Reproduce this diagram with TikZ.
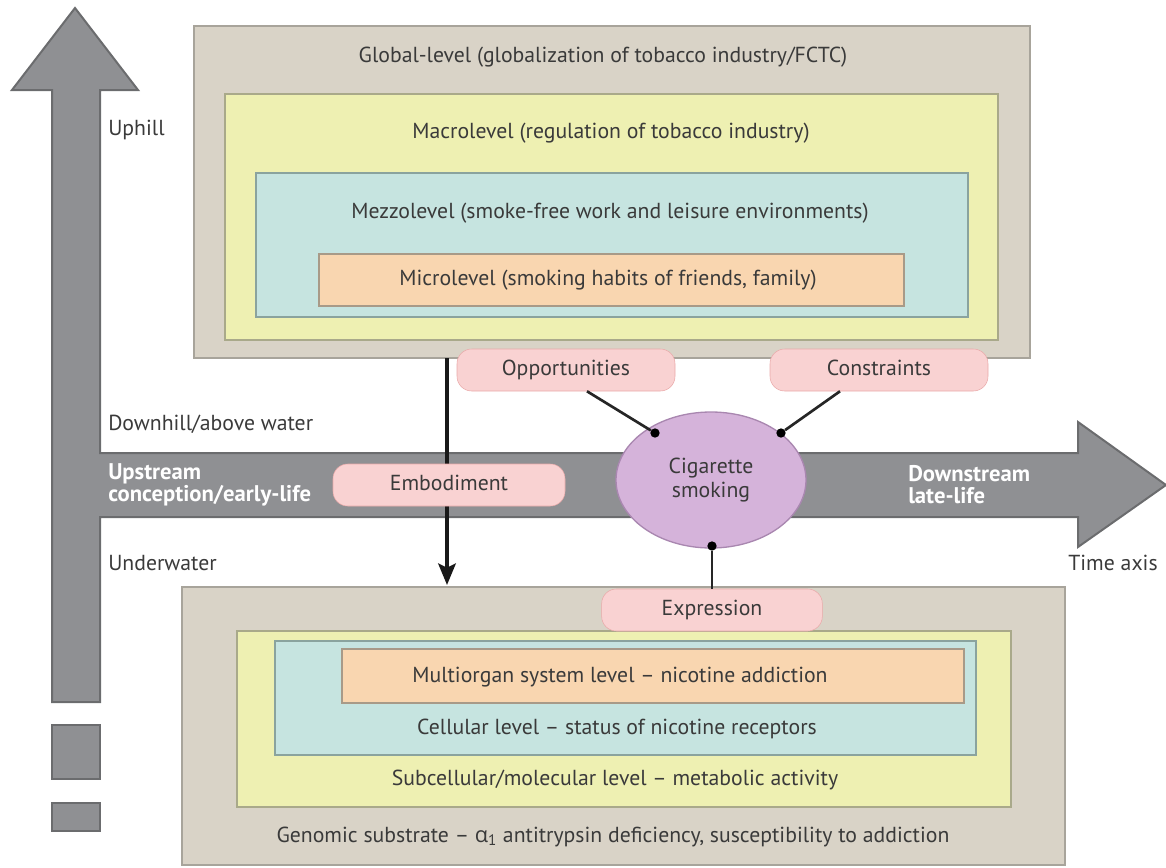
\documentclass[tikz,border=0pt]{standalone}
\usepackage{fontspec}
\setmainfont{PT Sans}
\newfontfamily\greekfont{Open Sans}
\usetikzlibrary{arrows.meta, positioning, calc, shapes.geometric}
\definecolor{cgray}{HTML}{8F9093}
\definecolor{cgrayline}{HTML}{6B6C6E}
\definecolor{ctan}{HTML}{D9D3C7}
\definecolor{ctanline}{HTML}{A8A49B}
\definecolor{cyellow}{HTML}{EEF0B2}
\definecolor{cyellowline}{HTML}{A9A98A}
\definecolor{ccyan}{HTML}{C6E4E0}
\definecolor{ccyanline}{HTML}{8AA39E}
\definecolor{cpeach}{HTML}{F9D6B0}
\definecolor{cpeachline}{HTML}{A89A88}
\definecolor{cpink}{HTML}{F9D2D2}
\definecolor{cpinkline}{HTML}{E9A9A9}
\definecolor{cpurple}{HTML}{D5B3DA}
\definecolor{cpurpleline}{HTML}{A987B0}
\definecolor{ctext}{HTML}{3A3A3A}

\tikzset{
  lvltext/.style={font=\fontsize{16.3}{19}\selectfont, text=ctext, inner sep=0pt, text height=11.5pt, text depth=3.5pt},
  sidetext/.style={lvltext, anchor=west},
  streamtext/.style={font=\fontsize{17}{16.5}\selectfont\bfseries, text=white, align=left, anchor=west, inner sep=0pt},
  pinkbox/.style={draw=cpinkline, fill=cpink, rounded corners=11pt, minimum height=31.5pt, text height=11.5pt, text depth=3.5pt, font=\fontsize{16.3}{19}\selectfont, text=ctext},
  blob/.style={circle, fill=black, inner sep=0pt, minimum size=7pt},
  link/.style={line width=2pt, black!85}
}

\begin{document}
\begin{tikzpicture}[x=0.75pt, y=-0.75pt]
  \useasboundingbox (0,0) rectangle (1166,867);

  % Uphill and time axis arrows as one shape
  \filldraw[fill=cgray, draw=cgrayline, line width=1.5pt, line join=miter]
    (52,702) -- (52,90) -- (12,90) -- (75,8) -- (138,90) -- (100,90) -- (100,453)
    -- (1078,453) -- (1078,422) -- (1166,485) -- (1078,547) -- (1078,517)
    -- (100,517) -- (100,702) -- cycle;
  % broken tail
  \filldraw[fill=cgray, draw=cgrayline, line width=1.5pt] (52,725) rectangle (100,779);
  \filldraw[fill=cgray, draw=cgrayline, line width=1.5pt] (52,803) rectangle (100,831);

  % Above water: social levels
  \fill[ctan, draw=ctanline, line width=1.2pt] (194,26) rectangle (1030,358);
  \fill[cyellow, draw=cyellowline, line width=1.2pt] (225,94) rectangle (998,340);
  \fill[ccyan, draw=ccyanline, line width=1.2pt] (256,173) rectangle (968,317);
  \fill[cpeach, draw=cpeachline, line width=1.2pt] (319,254) rectangle (904,306);
  \node[lvltext] (glob) at (603,57) {Global-level (globalization of tobacco industry/FCTC)};
  \node[lvltext] (macro) at (611,133) {Macrolevel (regulation of tobacco industry)};
  \node[lvltext] (mezzo) at (610,213) {Mezzolevel (smoke-free work and leisure environments)};
  \node[lvltext] (micro) at (608,280) {Microlevel (smoking habits of friends, family)};

  % Underwater: biological levels
  \fill[ctan, draw=ctanline, line width=1.2pt] (182,587) rectangle (1065,865);
  \fill[cyellow, draw=cyellowline, line width=1.2pt] (237,631) rectangle (1011,807);
  \fill[ccyan, draw=ccyanline, line width=1.2pt] (275,641) rectangle (976,755);
  \fill[cpeach, draw=cpeachline, line width=1.2pt] (342,649) rectangle (964,703);
  \node[lvltext] (organ) at (620,677) {Multiorgan system level -- nicotine addiction};
  \node[lvltext] (cell) at (617,729) {Cellular level -- status of nicotine receptors};
  \node[lvltext] (subcell) at (615,780) {Subcellular/molecular level -- metabolic activity};
  \node[lvltext] (genome) at (613,837) {Genomic substrate -- {\greekfont α}\textsubscript{1} antitrypsin deficiency, susceptibility to addiction};

  % side labels
  \node[sidetext] (uphill) at (108,130) {Uphill};
  \node[sidetext] (downhill) at (108,425) {Downhill/above water};
  \node[sidetext] (under) at (108,565) {Underwater};
  \node[lvltext] (time) at (1113,565) {Time axis};
  \node[streamtext] (upstr) at (108,485) {Upstream\\conception/early-life};
  \node[streamtext] (downstr) at (908,485) {Downstream\\late-life};

  % Embodiment
  \coordinate (embtop) at (447,358);
  \coordinate (embtip) at (447,585);
  \draw[line width=3pt, black!90, -{Stealth[length=16pt, width=13pt, inset=3pt]}] (embtop) -- (embtip);
  \node[pinkbox, minimum width=174pt] (emb) at (449,485) {Embodiment};

  % Cigarette smoking and its links
  \node[ellipse, draw=cpurpleline, fill=cpurple, line width=1pt, minimum width=142.5pt, minimum height=102pt,
        align=center, font=\fontsize{16.3}{18}\selectfont, text=ctext] (cig) at (711,480) {Cigarette\\smoking};
  \node[pinkbox, minimum width=163.5pt] (opp) at (566,370) {Opportunities};
  \node[pinkbox, minimum width=163.5pt] (cons) at (879,370) {Constraints};
  \node[pinkbox, minimum width=165.5pt] (expr) at (712,610) {Expression};

  \node[blob] (oppdot) at (655,433) {};
  \node[blob] (consdot) at (781,433) {};
  \node[blob] (exprdot) at (712,546) {};
  \draw[link] ($(opp.south)+(21,0)$) -- (oppdot);
  \draw[link] ($(cons.south)+(-39,0)$) -- (consdot);
  \draw[link] (exprdot) -- (expr.north);
\end{tikzpicture}
\end{document}
